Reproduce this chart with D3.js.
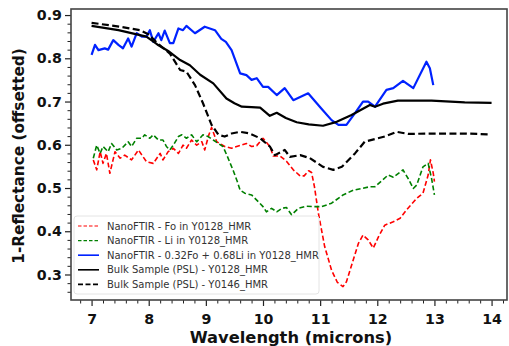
<!DOCTYPE html>
<html>
<head>
<meta charset="utf-8">
<script src="https://cdn.jsdelivr.net/npm/d3@7"></script>
<style>
  body { margin: 0; background: #fff; }
  text { font-family: "DejaVu Sans", sans-serif; }
</style>
</head>
<body>
<div id="chart"></div>
<script>
// data: [wavelength (microns), 1-reflectance]
const foData = [[7.03,.565],[7.09,.542],[7.15,.584],[7.2,.557],[7.26,.58],[7.32,.534],[7.41,.584],[7.5,.569],[7.58,.576],[7.7,.565],[7.82,.588],[7.96,.561],[8.08,.557],[8.2,.58],[8.25,.565],[8.34,.584],[8.43,.592],[8.52,.58],[8.6,.599],[8.66,.592],[8.75,.611],[8.84,.599],[8.93,.607],[8.98,.588],[9.05,.622],[9.1,.640],[9.19,.607],[9.33,.596],[9.45,.592],[9.54,.596],[9.71,.603],[9.8,.596],[9.89,.598],[10.0,.615],[10.12,.596],[10.18,.574],[10.3,.574],[10.41,.562],[10.53,.542],[10.65,.528],[10.72,.528],[10.8,.540],[10.85,.536],[10.9,.503],[10.97,.441],[11.08,.364],[11.2,.31],[11.3,.282],[11.4,.272],[11.46,.283],[11.58,.334],[11.67,.372],[11.75,.391],[11.84,.38],[11.93,.361],[12.02,.387],[12.13,.414],[12.28,.422],[12.4,.43],[12.51,.449],[12.69,.476],[12.8,.488],[12.89,.53],[12.93,.565],[12.98,.534],[13.0,.515]];

const liData = [[7.03,.569],[7.09,.599],[7.15,.58],[7.2,.596],[7.29,.584],[7.35,.603],[7.44,.588],[7.53,.592],[7.64,.607],[7.7,.596],[7.79,.615],[7.88,.615],[7.93,.623],[8.02,.615],[8.08,.623],[8.17,.611],[8.25,.611],[8.31,.596],[8.37,.588],[8.43,.599],[8.52,.619],[8.58,.623],[8.66,.615],[8.75,.623],[8.84,.607],[8.95,.623],[9.04,.619],[9.13,.611],[9.22,.603],[9.3,.596],[9.38,.572],[9.48,.54],[9.55,.515],[9.6,.495],[9.68,.488],[9.8,.484],[9.92,.468],[10.0,.457],[10.06,.445],[10.15,.453],[10.24,.445],[10.33,.453],[10.41,.455],[10.5,.438],[10.62,.453],[10.76,.458],[10.88,.457],[11.03,.457],[11.2,.465],[11.4,.484],[11.58,.495],[11.73,.499],[11.87,.503],[11.96,.503],[12.19,.53],[12.28,.525],[12.45,.542],[12.54,.522],[12.63,.499],[12.69,.507],[12.8,.549],[12.89,.557],[12.95,.522],[13.0,.484]];

const mixData = [[7.0,.808],[7.06,.831],[7.12,.819],[7.23,.823],[7.29,.820],[7.38,.842],[7.47,.831],[7.55,.823],[7.64,.846],[7.7,.827],[7.79,.858],[7.88,.850],[7.96,.850],[8.02,.865],[8.08,.838],[8.17,.858],[8.22,.842],[8.28,.864],[8.37,.835],[8.43,.835],[8.52,.869],[8.6,.865],[8.66,.875],[8.81,.858],[8.98,.873],[9.16,.865],[9.27,.845],[9.35,.838],[9.45,.819],[9.6,.765],[9.71,.761],[9.8,.750],[9.89,.754],[10.0,.734],[10.09,.734],[10.24,.715],[10.38,.731],[10.53,.703],[10.79,.719],[11.02,.684],[11.2,.657],[11.32,.646],[11.46,.646],[11.61,.673],[11.75,.700],[11.84,.700],[11.96,.688],[12.16,.727],[12.28,.731],[12.45,.748],[12.63,.731],[12.86,.792],[12.92,.777],[12.98,.738]];

const bulk128Data = [[7.0,.875],[7.47,.865],[7.96,.850],[8.15,.832],[8.34,.817],[8.55,.796],[8.72,.784],[8.9,.762],[9.13,.742],[9.36,.707],[9.5,.696],[9.63,.688],[9.8,.687],[9.95,.686],[10.12,.667],[10.24,.674],[10.4,.662],[10.59,.652],[10.8,.647],[11.05,.644],[11.29,.653],[11.55,.669],[11.87,.692],[11.96,.688],[12.1,.695],[12.36,.702],[12.95,.702],[13.53,.698],[14.0,.697]];

const bulk146Data = [[7.0,.882],[7.5,.873],[7.85,.865],[8.0,.855],[8.15,.835],[8.37,.811],[8.55,.773],[8.66,.769],[8.81,.738],[8.95,.696],[9.1,.646],[9.22,.623],[9.33,.619],[9.45,.626],[9.6,.630],[9.77,.626],[9.95,.615],[10.12,.596],[10.21,.576],[10.38,.588],[10.47,.572],[10.65,.576],[10.82,.569],[11.05,.549],[11.23,.542],[11.38,.549],[11.61,.580],[11.78,.607],[12.13,.619],[12.34,.630],[12.54,.625],[12.95,.626],[13.53,.626],[13.97,.624]];

const xTicks = [7, 8, 9, 10, 11, 12, 13, 14];
const yTicks = [0.3, 0.4, 0.5, 0.6, 0.7, 0.8, 0.9];

const series = [
  { label: "NanoFTIR - Fo in Y0128_HMR", data: foData, color: "#ff0000", width: 1.6, dash: "5,2.6" },
  { label: "NanoFTIR - Li in Y0128_HMR", data: liData, color: "#008000", width: 1.6, dash: "5,2.6" },
  { label: "NanoFTIR - 0.32Fo + 0.68Li in Y0128_HMR", data: mixData, color: "#0022ff", width: 2.2, dash: null },
  { label: "Bulk Sample (PSL) - Y0128_HMR", data: bulk128Data, color: "#000", width: 2.2, dash: null },
  { label: "Bulk Sample (PSL) - Y0146_HMR", data: bulk146Data, color: "#000", width: 2.2, dash: "7,3.4" }
];

const W = 509, H = 346;
const mLeft = 71, mRight = 507, mTop = 9, mBottom = 300;

const svg = d3.select("#chart").append("svg")
  .attr("width", W).attr("height", H);

const x = d3.scaleLinear().domain([6.64, 14.27]).range([mLeft, mRight]);
const y = d3.scaleLinear().domain([0.241, 0.914]).range([mBottom, mTop]);

// minor ticks first, majors on top
const xMinor = d3.range(6.8, 14.21, 0.2).filter(v => Math.abs(v - Math.round(v)) > 0.01);
const yMinor = d3.range(0.26, 0.911, 0.02).filter(v => Math.abs(v * 10 - Math.round(v * 10)) > 0.01);

svg.append("g").attr("transform", `translate(0,${mBottom})`)
  .call(d3.axisBottom(x).tickValues(xMinor).tickSize(3.5).tickFormat(""))
  .call(g => g.select(".domain").remove());
svg.append("g").attr("transform", `translate(${mLeft},0)`)
  .call(d3.axisLeft(y).tickValues(yMinor).tickSize(3.5).tickFormat(""))
  .call(g => g.select(".domain").remove());

const xAxis = svg.append("g").attr("transform", `translate(0,${mBottom})`)
  .call(d3.axisBottom(x).tickValues(xTicks).tickSize(6).tickPadding(8).tickFormat(d3.format("d")));
const yAxis = svg.append("g").attr("transform", `translate(${mLeft},0)`)
  .call(d3.axisLeft(y).tickValues(yTicks).tickSize(6).tickPadding(3).tickFormat(d3.format(".1f")));

[xAxis, yAxis].forEach(g => {
  g.select(".domain").remove();
  g.selectAll("text").attr("font-family", "DejaVu Sans").attr("font-weight", "bold")
    .attr("font-size", 14.2).attr("fill", "#111");
  g.selectAll("line").attr("stroke-width", 1.2);
});
svg.selectAll(".tick line").attr("stroke", "#222");

// lines, clipped to plot box
svg.append("clipPath").attr("id", "clip")
  .append("rect").attr("x", mLeft).attr("y", mTop).attr("width", mRight - mLeft).attr("height", mBottom - mTop);

const line = d3.line().x(d => x(d[0])).y(d => y(d[1])).curve(d3.curveLinear);

const plot = svg.append("g").attr("clip-path", "url(#clip)");
series.forEach(s => {
  plot.append("path").datum(s.data)
    .attr("d", line)
    .attr("fill", "none")
    .attr("stroke", s.color)
    .attr("stroke-width", s.width)
    .attr("stroke-linejoin", "round")
    .attr("stroke-dasharray", s.dash);
});

// frame
svg.append("rect")
  .attr("x", mLeft).attr("y", mTop).attr("width", mRight - mLeft).attr("height", mBottom - mTop)
  .attr("fill", "none").attr("stroke", "#444").attr("stroke-width", 1.6);

// legend
const legend = svg.append("g").attr("transform", "translate(74,216)");
legend.append("rect")
  .attr("x", 0).attr("y", 0).attr("width", 245).attr("height", 78).attr("rx", 3)
  .attr("fill", "#fff").attr("fill-opacity", 0.8)
  .attr("stroke", "#e4e4e4").attr("stroke-width", 1);

series.forEach((s, i) => {
  const cy = 10 + i * 14.6;
  legend.append("line")
    .attr("x1", 4).attr("x2", 25).attr("y1", cy).attr("y2", cy)
    .attr("stroke", s.color).attr("stroke-width", s.width * 0.75)
    .attr("stroke-dasharray", s.dash ? (s.width < 2 ? "3.5,2" : "5,2.5") : null);
  legend.append("text")
    .attr("x", 33).attr("y", cy).attr("dy", "0.35em")
    .attr("font-size", 10).attr("fill", "#333")
    .text(s.label);
});

// axis titles
svg.append("text")
  .attr("x", 291).attr("y", 343)
  .attr("text-anchor", "middle")
  .attr("font-size", 16.3).attr("font-weight", "bold").attr("fill", "#111")
  .text("Wavelength (microns)");

svg.append("text")
  .attr("transform", "translate(19,156) rotate(-90)")
  .attr("text-anchor", "middle").attr("dy", "0.35em")
  .attr("font-size", 15.3).attr("font-weight", "bold").attr("fill", "#111")
  .text("1-Reflectance (offsetted)");
</script>
</body>
</html>
